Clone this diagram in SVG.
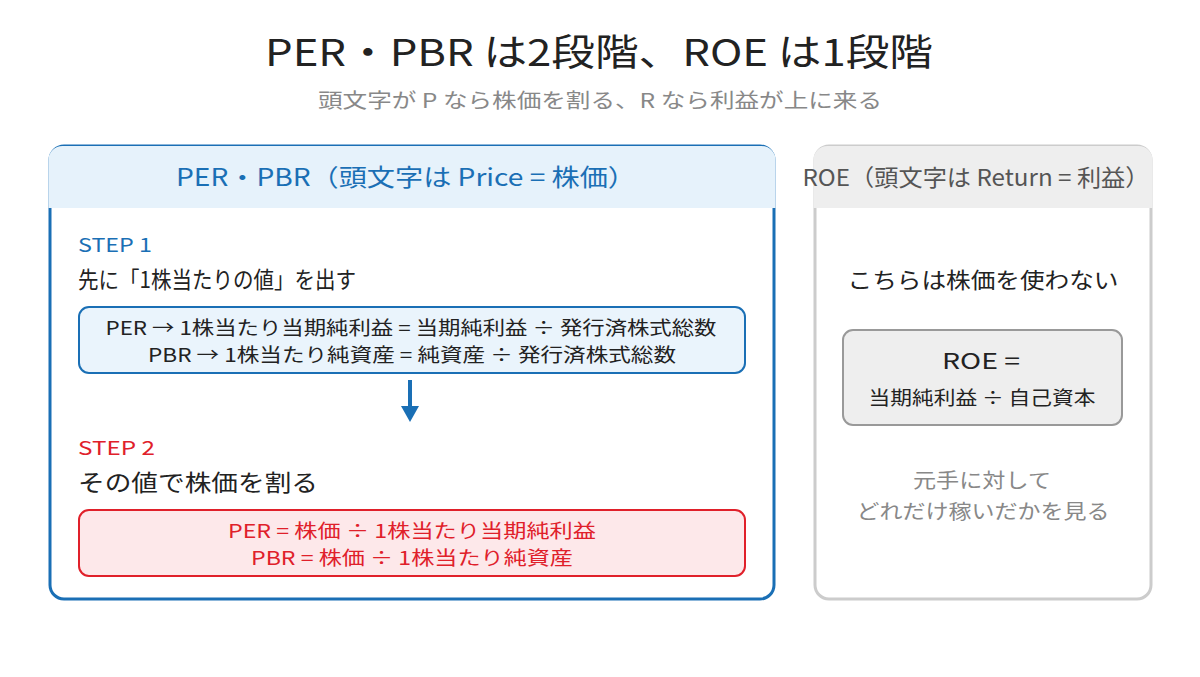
<svg xmlns="http://www.w3.org/2000/svg" width="1200" height="677" viewBox="0 0 1200 677">
<style>
text{font-family:"Noto Sans CJK JP","Noto Sans",sans-serif;text-anchor:middle}
.l{text-anchor:start}
</style>
<rect width="1200" height="677" fill="#fff"/>
<text x="599" y="66" font-size="37" fill="#222" textLength="668" lengthAdjust="spacingAndGlyphs">PER・PBR は2段階、ROE は1段階</text>
<text x="600" y="108" font-size="20" fill="#888" textLength="564" lengthAdjust="spacingAndGlyphs">頭文字が P なら株価を割る、R なら利益が上に来る</text>
<g id="left">
<rect x="50" y="146" width="724" height="453" rx="14" fill="#fff" stroke="#1a6fb5" stroke-width="3"/>
<path d="M48.5 208 V160 a14 14 0 0 1 14 -14 H761.5 a14 14 0 0 1 14 14 V208 Z" fill="#e6f2fb"/>
<text x="406" y="186" font-size="24" fill="#1a6fb5" textLength="460" lengthAdjust="spacingAndGlyphs">PER・PBR（頭文字は Price = 株価）</text>
<text class="l" x="78" y="252" font-size="19" fill="#1a6fb5" textLength="74" lengthAdjust="spacingAndGlyphs">STEP 1</text>
<text class="l" x="78" y="288" font-size="23" fill="#222" textLength="278" lengthAdjust="spacingAndGlyphs">先に「1株当たりの値」を出す</text>
</g>
<g id="step1">
<rect x="79" y="307" width="666" height="66" rx="10" fill="#eaf4fc" stroke="#1a6fb5" stroke-width="2"/>
<text x="411" y="335" font-size="19" fill="#222" textLength="611" lengthAdjust="spacingAndGlyphs">PER → 1株当たり当期純利益 = 当期純利益 ÷ 発行済株式総数</text>
<text x="412" y="362" font-size="19" fill="#222" textLength="528" lengthAdjust="spacingAndGlyphs">PBR → 1株当たり純資産 = 純資産 ÷ 発行済株式総数</text>
</g>
<g id="connectors">
<line x1="410" y1="380" x2="410" y2="410" stroke="#1a6fb5" stroke-width="4"/>
<path d="M401 406 L410 422 L419 406 Z" fill="#1a6fb5"/>
</g>
<g id="step2">
<text class="l" x="78" y="455" font-size="19" fill="#e0202a" textLength="77" lengthAdjust="spacingAndGlyphs">STEP 2</text>
<text class="l" x="78" y="491" font-size="23" fill="#222" textLength="240" lengthAdjust="spacingAndGlyphs">その値で株価を割る</text>
<rect x="79" y="510" width="666" height="66" rx="10" fill="#fde8ea" stroke="#e0202a" stroke-width="2"/>
<text x="412" y="538" font-size="19" fill="#e0202a" textLength="368" lengthAdjust="spacingAndGlyphs">PER = 株価 ÷ 1株当たり当期純利益</text>
<text x="412" y="565" font-size="19" fill="#e0202a" textLength="322" lengthAdjust="spacingAndGlyphs">PBR = 株価 ÷ 1株当たり純資産</text>
</g>
<g id="right">
<rect x="815" y="146" width="336" height="453" rx="14" fill="#fff" stroke="#ccc" stroke-width="3"/>
<path d="M813.5 208 V160 a14 14 0 0 1 14 -14 H1138.5 a14 14 0 0 1 14 14 V208 Z" fill="#eeeeee"/>
<text x="976" y="186" font-size="23" fill="#555" textLength="347" lengthAdjust="spacingAndGlyphs">ROE（頭文字は Return = 利益）</text>
<text x="983" y="288" font-size="22" fill="#222" textLength="271" lengthAdjust="spacingAndGlyphs">こちらは株価を使わない</text>
<text x="982" y="488" font-size="20" fill="#888" textLength="138" lengthAdjust="spacingAndGlyphs">元手に対して</text>
<text x="983" y="519" font-size="20" fill="#888" textLength="253" lengthAdjust="spacingAndGlyphs">どれだけ稼いだかを見る</text>
</g>
<g id="roe">
<rect x="843" y="330" width="279" height="95" rx="10" fill="#eeeeee" stroke="#999" stroke-width="2"/>
<text x="981" y="369" font-size="22" fill="#222" textLength="78" lengthAdjust="spacingAndGlyphs">ROE =</text>
<text x="982" y="405" font-size="19" fill="#222" textLength="227" lengthAdjust="spacingAndGlyphs">当期純利益 ÷ 自己資本</text>
</g>
</svg>
